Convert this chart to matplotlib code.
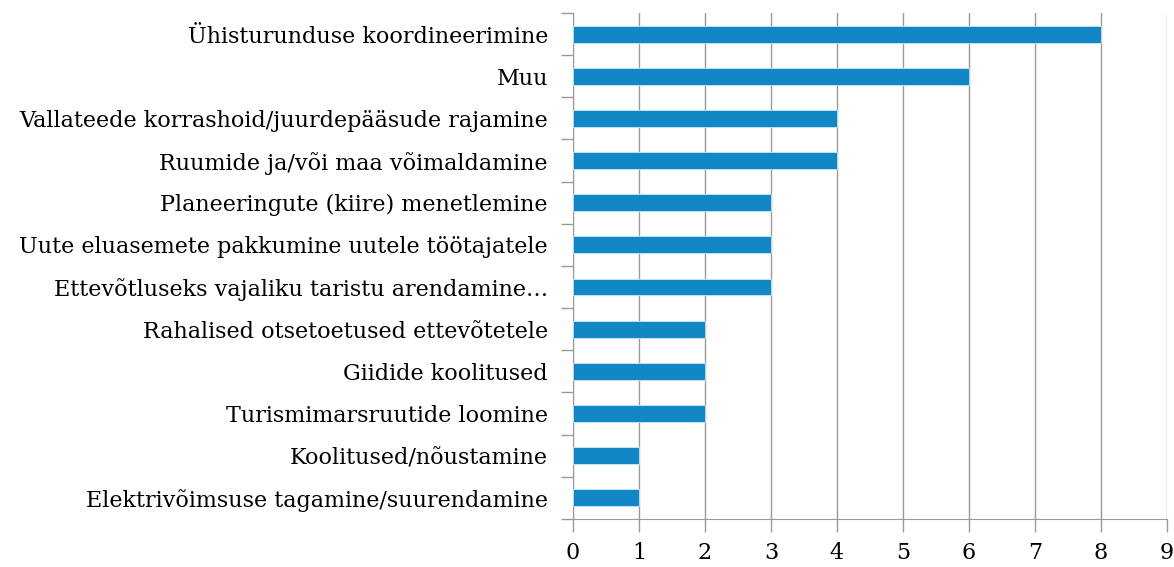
import numpy as np
import matplotlib.pyplot as plt

categories = [
    "Ühisturunduse koordineerimine",
    "Muu",
    "Vallateede korrashoid/juurdepääsude rajamine",
    "Ruumide ja/või maa võimaldamine",
    "Planeeringute (kiire) menetlemine",
    "Uute eluasemete pakkumine uutele töötajatele",
    "Ettevõtluseks vajaliku taristu arendamine…",
    "Rahalised otsetoetused ettevõtetele",
    "Giidide koolitused",
    "Turismimarsruutide loomine",
    "Koolitused/nõustamine",
    "Elektrivõimsuse tagamine/suurendamine",
]
values = [8, 6, 4, 4, 3, 3, 3, 2, 2, 2, 1, 1]

plt.rcParams['font.family'] = ['DejaVu Serif']
grey = '#9a9a9a'

fig = plt.figure(figsize=(11.74, 5.67), dpi=100)
ax = fig.add_axes([0.488, 0.085, 0.506, 0.892])

y = np.arange(len(categories))
ax.barh(y, values, height=0.4, color='#1287c5', edgecolor='#cfe6f3', linewidth=0.6, zorder=3)

ax.set_xlim(0, 9)
ax.set_ylim(len(categories) - 0.5, -0.5)
ax.set_xticks(range(0, 10))
ax.set_yticks(y)
ax.set_yticklabels(categories, fontsize=16)
ax.set_yticks(np.arange(-0.5, len(categories), 1), minor=True)
ax.tick_params(axis='y', which='major', length=0, pad=18)
ax.tick_params(axis='y', which='minor', length=9, color=grey, width=1)
ax.tick_params(axis='x', length=9, color=grey, width=1, labelsize=16, pad=8)
ax.grid(axis='x', color=grey, linewidth=1, zorder=0)

for s in ['top', 'right']:
    ax.spines[s].set_visible(False)
ax.spines['left'].set_color(grey)
ax.spines['bottom'].set_color(grey)

fig.savefig('out.png')
